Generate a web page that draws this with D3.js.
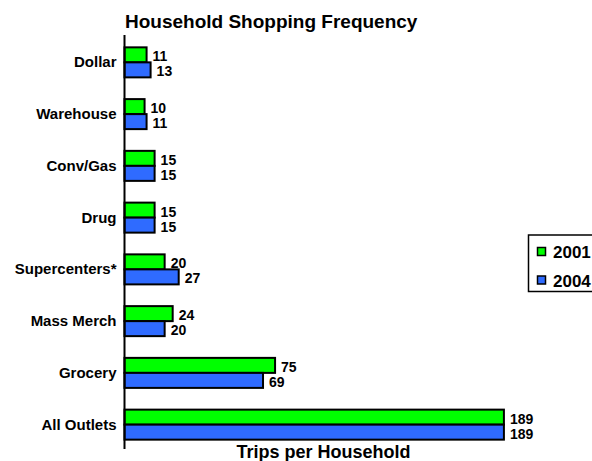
<!DOCTYPE html>
<html>
<head>
<meta charset="utf-8">
<script src="https://cdn.jsdelivr.net/npm/d3@7"></script>
<style>
  body { margin: 0; background: #fff; overflow: hidden; }
  text { font-family: "Liberation Sans", Arial, sans-serif; font-weight: bold; fill: #000; }
</style>
</head>
<body>
<div id="chart"></div>
<script>
// Outlet categories, top to bottom
var outlets = ["Dollar", "Warehouse", "Conv/Gas", "Drug", "Supercenters*", "Mass Merch", "Grocery", "All Outlets"];
var years = ["2001", "2004"];
// Trips per household for each year
var trips2001 = [11, 10, 15, 15, 20, 24, 75, 189];
var trips2004 = [13, 11, 15, 15, 27, 20, 69, 189];

var colors = {"2001": "#00ff00", "2004": "#2f6bff"};

var width = 592, height = 461;

var svg = d3.select("#chart")
   .append("svg")
   .attr("width", width)
   .attr("height", height)
   .style("display", "block");

// x: trips, y: outlet groups, inner band: year
var x = d3.scaleLinear()
   .domain([0, 200])
   .range([124.5, 526]);

var y = d3.scaleBand()
   .domain(outlets)
   .range([37, 450])
   .paddingInner(0.42)
   .paddingOuter(0.2);

var yInner = d3.scaleBand()
   .domain(years)
   .range([0, y.bandwidth()]);

var rows = outlets.map(function(name, i) {
  return {name: name, values: [
    {year: "2001", value: trips2001[i]},
    {year: "2004", value: trips2004[i]}
  ]};
});

//Title
svg.append("text")
   .text("Household Shopping Frequency")
   .attr("x", 125)
   .attr("y", 28)
   .style("font-size", "19px");

//Bar groups
var groups = svg.selectAll(".outlet")
   .data(rows)
   .enter()
   .append("g")
   .attr("class", "outlet")
   .attr("transform", function(d) { return "translate(0," + y(d.name) + ")"; });

groups.selectAll("rect")
   .data(function(d) { return d.values; })
   .enter()
   .append("rect")
   .attr("x", x(0))
   .attr("y", function(d) { return yInner(d.year); })
   .attr("width", function(d) { return x(d.value) - x(0); })
   .attr("height", yInner.bandwidth())
   .style("fill", function(d) { return colors[d.year]; })
   .style("stroke", "#000")
   .style("stroke-width", 2);

//Value labels just past each bar
groups.selectAll(".val")
   .data(function(d) { return d.values; })
   .enter()
   .append("text")
   .attr("class", "val")
   .text(function(d) { return d.value; })
   .attr("x", function(d) { return x(d.value) + 6; })
   .attr("y", function(d) { return yInner(d.year) + yInner.bandwidth() - 1; })
   .style("font-size", "14px");

//Category axis, no ticks
var yAxis = svg.append("g")
   .attr("transform", "translate(" + x(0) + ",0)")
   .call(d3.axisLeft(y).tickSize(0).tickSizeOuter(0).tickPadding(8));
yAxis.select(".domain")
   .attr("d", "M0,35V449")
   .style("stroke", "#000")
   .style("stroke-width", 2);
yAxis.selectAll(".tick text")
   .attr("dy", "0.33em")
   .style("font-size", "15px")
   .style("font-family", "\"Liberation Sans\", Arial, sans-serif")
   .style("font-weight", "bold");

//Axis title
svg.append("text")
   .text("Trips per Household")
   .attr("x", 323.5)
   .attr("y", 458)
   .attr("text-anchor", "middle")
   .style("font-size", "18px");

//Legend, runs off the right edge
var legend = svg.append("g");
legend.append("rect")
   .attr("x", 528.5)
   .attr("y", 235)
   .attr("width", 90)
   .attr("height", 56.5)
   .style("fill", "#fff")
   .style("stroke", "#000")
   .style("stroke-width", 1.5);
years.forEach(function(yr, i) {
  legend.append("rect")
     .attr("x", 537.5)
     .attr("y", 247.5 + i * 28.5)
     .attr("width", 8)
     .attr("height", 8)
     .style("fill", colors[yr])
     .style("stroke", "#000")
     .style("stroke-width", 1.5);
  legend.append("text")
     .text(yr)
     .attr("x", 553)
     .attr("y", 258 + i * 28.5)
     .style("font-size", "17px");
});
</script>
</body>
</html>
